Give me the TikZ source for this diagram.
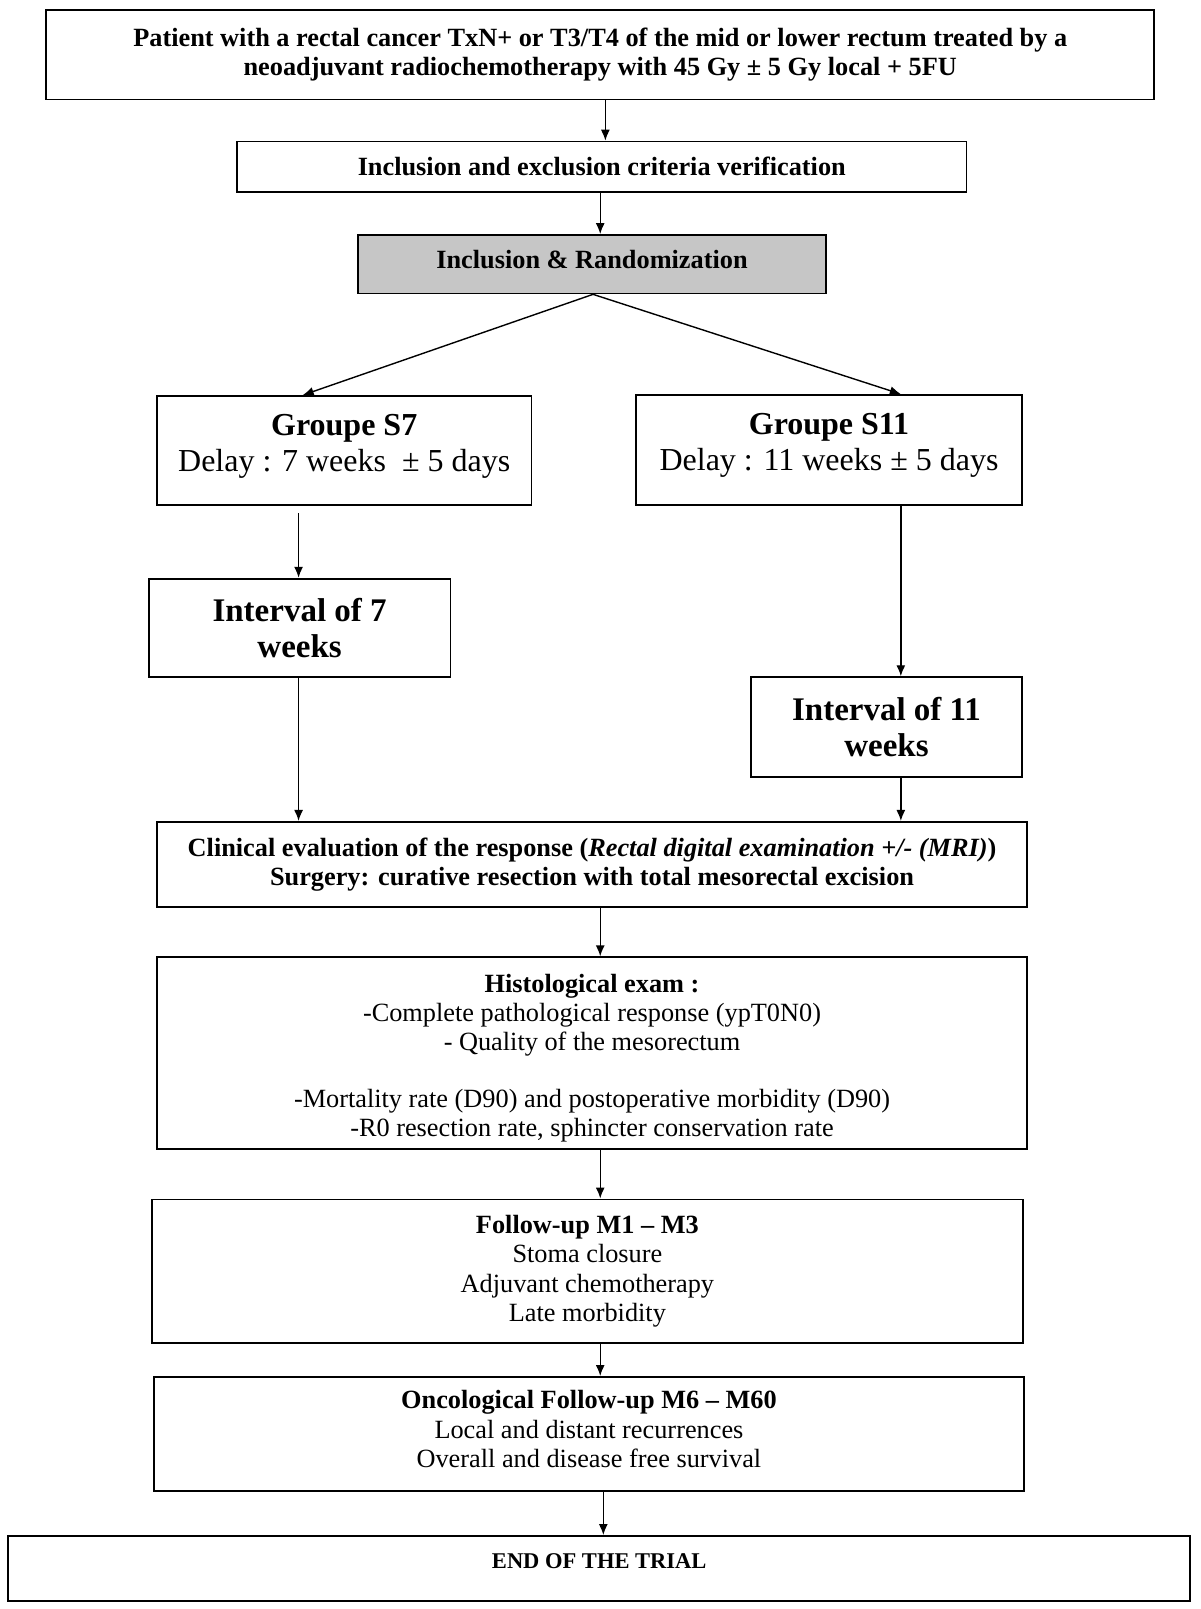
\documentclass[tikz,border=0pt]{standalone}
\usepackage{fontspec}
\setmainfont{Liberation Serif}
\usetikzlibrary{arrows.meta}
\tikzset{
  box/.style 2 args={draw=black, line width=1.8bp, align=center, inner sep=0pt, fill=white,
    minimum width={#1*1.026bp}, minimum height={#2*1.026bp}},
  arr/.style={line width=1.4bp, -{Latex[length=11bp,width=9bp]}},
  sm/.style={font=\fontsize{26.3bp}{29.2bp}\selectfont},
  big/.style={font=\fontsize{32bp}{36bp}\selectfont},
  bigi/.style={font=\fontsize{33bp}{36bp}\selectfont},
  endf/.style={font=\fontsize{22.5bp}{26bp}\selectfont},
}
\begin{document}
\begin{tikzpicture}[x=1.026bp,y=-1.026bp]
\useasboundingbox (0,0) rectangle (1169.6,1568.2);
\node[box={1080}{87},sm] (b1) at (585,53.5)
  {\textbf{Patient with a rectal cancer TxN+ or T3/T4 of the mid or lower rectum treated by a}\\
   \textbf{neoadjuvant radiochemotherapy with 45 Gy ± 5 Gy local + 5FU}};
\node[box={711}{49},sm] (b2) at (586.5,162.5)
  {\textbf{Inclusion and exclusion criteria verification}};
\node[box={456}{57},sm,fill=gray!45,text depth=10bp] (b3) at (577,257.5)
  {\textbf{Inclusion \& Randomization}};
\node[box={365}{106},big,text depth=16bp] (s7) at (335.5,439)
  {\textbf{Groupe S7}\\Delay : 7 weeks~ ± 5 days};
\node[box={376}{107},big,text depth=16bp] (s11) at (808,438.5)
  {\textbf{Groupe S11}\\Delay : 11 weeks ± 5 days};
\node[box={294}{96},bigi] (i7) at (292,612)
  {\textbf{Interval of 7}\\\textbf{weeks}};
\node[box={264}{97},bigi] (i11) at (864,708.5)
  {\textbf{Interval of 11}\\\textbf{weeks}};
\node[box={848}{83},sm] (clin) at (577,842.5)
  {\textbf{Clinical evaluation of the response (\textit{Rectal digital examination +/- (MRI)})}\\
   \textbf{Surgery: curative resection with total mesorectal excision}};
\node[box={848}{187},sm] (hist) at (577,1026.5)
  {\rule{0pt}{28bp}\textbf{Histological exam :}\\
   -Complete pathological response (ypT0N0)\\
   - Quality of the mesorectum\\[27bp]
   -Mortality rate (D90) and postoperative morbidity (D90)\\
   -R0 resection rate, sphincter conservation rate};
\node[box={849}{140},sm] (fu) at (572.5,1239)
  {\textbf{Follow-up M1 – M3}\\Stoma closure\\Adjuvant chemotherapy\\Late morbidity};
\node[box={848}{111},sm,text depth=10bp] (onco) at (574,1397.5)
  {\textbf{Oncological Follow-up M6 – M60}\\Local and distant recurrences\\Overall and disease free survival};
\node[box={1152}{63},endf,text depth=14bp] (end) at (584,1528.5)
  {\textbf{END OF THE TRIAL}};
\coordinate (xa) at (590,0);
\coordinate (xb) at (585,0);
\coordinate (xc) at (578,0);
\coordinate (xl) at (295,0);
\coordinate (xr) at (878,0);
\coordinate (x7) at (291,0);
\coordinate (xe) at (588,0);
\coordinate (s7o) at (291,500);
\draw[arr] (xa |- b1.south) -- (xa |- b2.north);
\draw[arr] (xb |- b2.south) -- (xb |- b3.north);
\draw[arr] (xc |- b3.south) -- (xl |- s7.north);
\draw[arr] (xc |- b3.south) -- (xr |- s11.north);
\draw[arr] (s7o) -- (x7 |- i7.north);
\draw[arr] (xr |- s11.south) -- (xr |- i11.north);
\draw[arr] (x7 |- i7.south) -- (x7 |- clin.north);
\draw[arr] (xr |- i11.south) -- (xr |- clin.north);
\draw[arr] (xb |- clin.south) -- (xb |- hist.north);
\draw[arr] (xb |- hist.south) -- (xb |- fu.north);
\draw[arr] (xb |- fu.south) -- (xb |- onco.north);
\draw[arr] (xe |- onco.south) -- (xe |- end.north);
\end{tikzpicture}
\end{document}
